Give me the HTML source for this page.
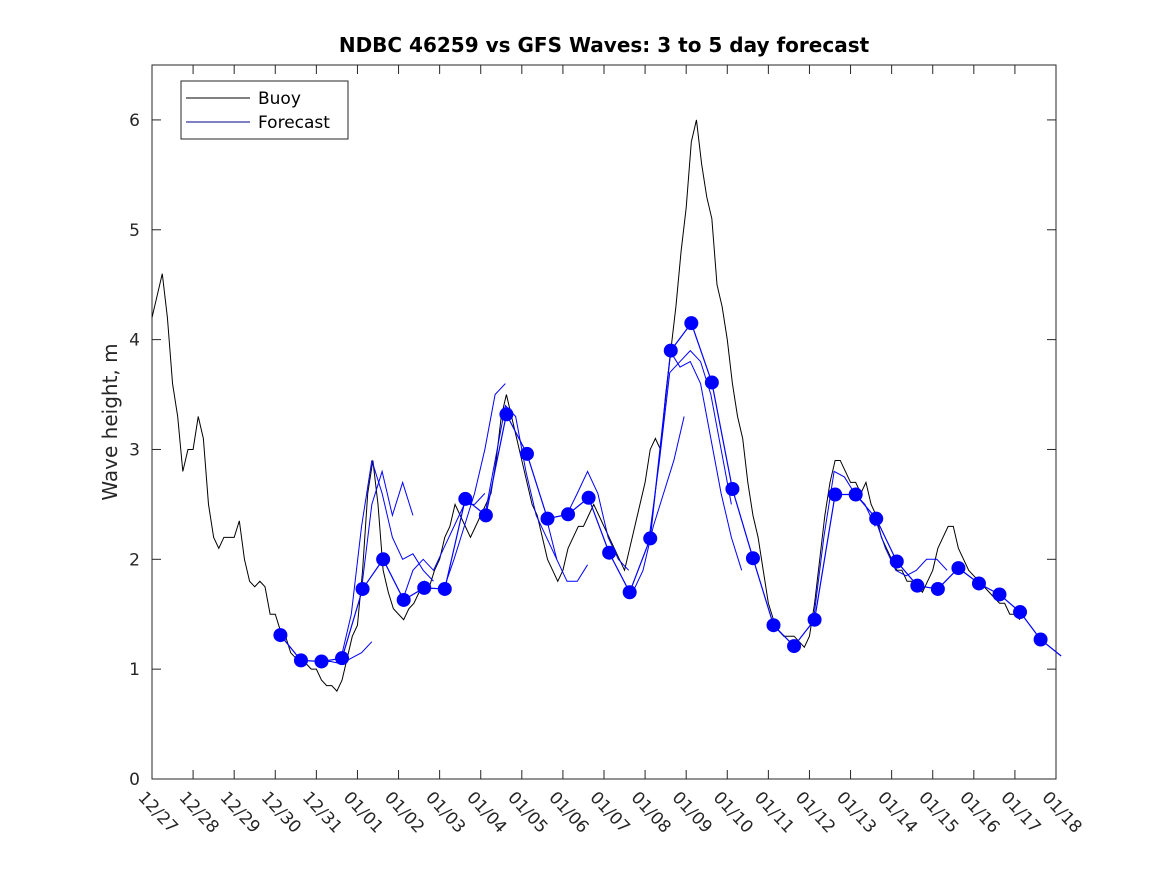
<!DOCTYPE html>
<html><head><meta charset="utf-8"><style>
body{margin:0;background:#fff}
svg{display:block;font-family:"DejaVu Sans","Liberation Sans",sans-serif}
</style></head><body>
<svg id="chart" width="1167" height="875">
<rect width="1167" height="875" fill="#fff"/>
<text x="604" y="52" text-anchor="middle" font-size="20" font-weight="bold" fill="#000">NDBC 46259 vs GFS Waves: 3 to 5 day forecast</text>
<text transform="translate(117,422) rotate(-90)" text-anchor="middle" font-size="20" fill="#262626">Wave height, m</text>
<g id="plot"></g>
</svg>
<script>
const dayLabels=["12/27","12/28","12/29","12/30","12/31","01/01","01/02","01/03","01/04","01/05","01/06","01/07","01/08","01/09","01/10","01/11","01/12","01/13","01/14","01/15","01/16","01/17","01/18"];
const yTicks=[0,1,2,3,4,5,6];
const buoyStep=0.125;
const buoy=[4.2,4.4,4.6,4.2,3.6,3.3,2.8,3.0,
3.0,3.3,3.1,2.5,2.2,2.1,2.2,2.2,
2.2,2.35,2.0,1.8,1.75,1.8,1.75,1.5,
1.5,1.35,1.3,1.15,1.1,1.05,1.05,1.0,
1.0,0.9,0.85,0.85,0.8,0.9,1.1,1.3,
1.4,1.9,2.6,2.9,2.5,1.9,1.7,1.55,
1.5,1.45,1.55,1.6,1.7,1.8,1.75,1.9,
2.0,2.2,2.3,2.5,2.4,2.3,2.2,2.3,
2.4,2.5,2.6,2.9,3.3,3.5,3.3,3.1,
2.9,2.7,2.5,2.4,2.2,2.0,1.9,1.8,
1.9,2.1,2.2,2.3,2.3,2.4,2.5,2.4,
2.3,2.2,2.1,2.0,1.9,2.1,2.3,2.5,
2.7,3.0,3.1,3.0,3.5,3.9,4.3,4.8,
5.2,5.8,6.0,5.6,5.3,5.1,4.5,4.3,
4.0,3.6,3.3,3.1,2.7,2.4,2.2,1.9,
1.6,1.45,1.35,1.3,1.3,1.3,1.25,1.2,
1.3,1.6,2.0,2.4,2.7,2.9,2.9,2.8,
2.7,2.7,2.6,2.7,2.5,2.4,2.2,2.1,
2.0,1.9,1.9,1.8,1.8,1.75,1.7,1.8,
1.9,2.1,2.2,2.3,2.3,2.1,2.0,1.9,
1.85,1.8,1.75,1.7,1.65,1.6,1.6,1.5,
1.5,1.45];
const dotStart=3.125, dotStep=0.5;
const dots=[1.31,1.08,1.07,1.10,1.73,2.00,1.63,1.74,1.73,2.55,2.40,3.32,2.96,2.37,2.41,2.56,2.06,1.70,2.19,3.90,4.15,3.61,2.64,2.01,1.40,1.21,1.45,2.59,2.59,2.37,1.98,1.76,1.73,1.92,1.78,1.68,1.52,1.27,1.12];
const runStarts=[4.1,4.6,5.1,6.1,7.1,8.1,9.6,10.1,11.7,12.1,12.6,16.1,17.6];
const runValues=[[1.07,1.07,1.05,1.1,1.15,1.25],[1.1,1.5,2.3,2.9,2.6,2.2,2.0,2.05,1.9,1.8],[1.73,2.5,2.8,2.4,2.7,2.4],[1.63,1.9,2.0,1.9,2.1,2.3,2.5,2.5,2.6],[1.73,2.0,2.3,2.6,3.0,3.5,3.6],[2.4,2.9,3.4,3.3,2.8,2.4,2.2,2.0],[2.37,2.0,1.8,1.8,1.95],[2.41,2.6,2.8,2.6,2.2,2.0,1.9],[1.7,1.9,2.3,2.6,2.9,3.3],[2.2,2.9,3.7,3.8,3.9,3.8,3.5,3.0,2.5],[3.9,3.75,3.8,3.6,3.1,2.6,2.2,1.9],[1.45,2.2,2.8,2.75,2.6,2.5,2.3],[2.37,2.1,1.9,1.85,1.9,2.0,2.0,1.9]];
const L=152,R=1056,T=65,B=779;
const xs=d=>L+(R-L)*d/22, ys=v=>B-(B-T)*v/6.5;
const NS="http://www.w3.org/2000/svg";
const g=document.getElementById('plot');
function mk(t,a){const e=document.createElementNS(NS,t);for(const k in a)e.setAttribute(k,a[k]);g.appendChild(e);return e;}
const box=mk('rect',{x:L,y:T,width:R-L,height:B-T,fill:'#fff',stroke:'#262626','stroke-width':1});


dayLabels.forEach((lab,i)=>{const x=xs(i);
 const t1=mk('line',{x1:x,y1:B,x2:x,y2:B-9,stroke:'#262626'});
 
 
 const t2=mk('line',{x1:x,y1:T,x2:x,y2:T+9,stroke:'#262626'});
 
 
 const tx=mk('text',{x:0,y:0,transform:`translate(${x-6},${790}) rotate(47)`,'font-size':17,fill:'#262626','dominant-baseline':'hanging'});
 tx.textContent=lab;
 
 });
yTicks.forEach(v=>{const y=ys(v);
 const t1=mk('line',{x1:L,y1:y,x2:L+9,y2:y,stroke:'#262626'});
 
 
 const t2=mk('line',{x1:R,y1:y,x2:R-9,y2:y,stroke:'#262626'});
 
 
 const tx=mk('text',{x:L-12,y:y+6,'text-anchor':'end','font-size':17,fill:'#262626'});
 tx.textContent=v;
 
 });
const bl=mk('polyline',{points:buoy.map((v,i)=>xs(i*buoyStep)+','+ys(v)).join(' '),fill:'none',stroke:'#000','stroke-width':1});


runValues.forEach((vals,j)=>{const p=mk('polyline',{points:vals.map((v,i)=>xs(runStarts[j]+i*0.25)+','+ys(v)).join(' '),fill:'none',stroke:'#0000ff','stroke-width':1});
 
 });
const fl=mk('polyline',{points:dots.map((v,i)=>xs(dotStart+i*dotStep)+','+ys(v)).join(' '),fill:'none',stroke:'#0000ff','stroke-width':1.2});


dots.forEach((v,i)=>{const d=dotStart+i*dotStep; if(d>21.8)return;
 const c=mk('circle',{cx:xs(d),cy:ys(v),r:7,fill:'#0000ff'});
 
 });
const lg=mk('rect',{x:181,y:81,width:167,height:58,fill:'#fff',stroke:'#262626'});


[['Buoy','#000',98],['Forecast','#00008b',122]].forEach(([n,c,y])=>{
 const l=mk('line',{x1:186,y1:y,x2:250,y2:y,stroke:c});
 
 
 const t=mk('text',{x:258,y:y+6,'font-size':17,fill:'#000'});t.textContent=n;
 
 });
</script>
</body></html>
